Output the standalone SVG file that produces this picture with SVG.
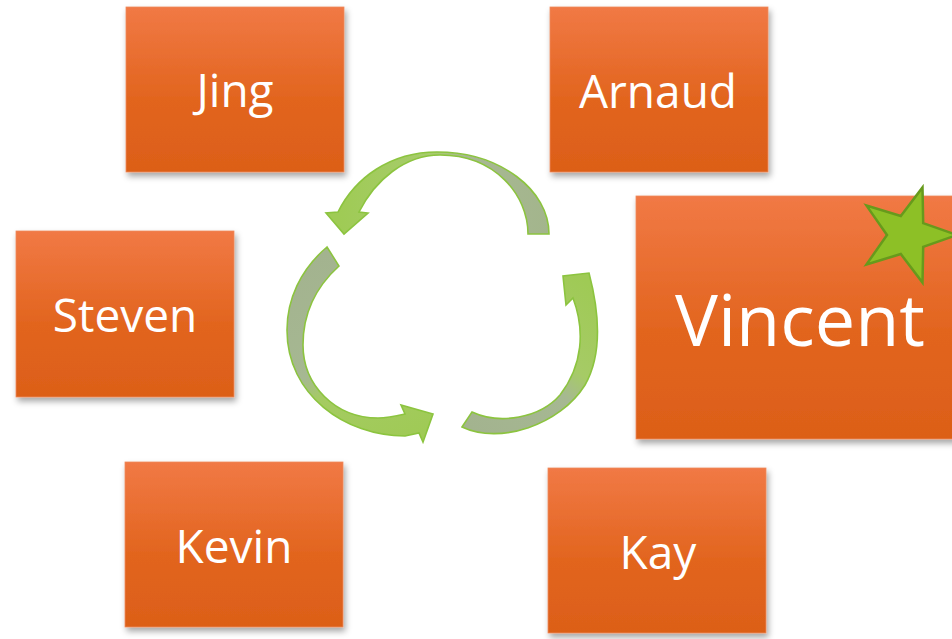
<svg xmlns="http://www.w3.org/2000/svg" width="952" height="639" viewBox="0 0 952 639">
<defs>
  <linearGradient id="box" x1="0" y1="0" x2="0" y2="1">
    <stop offset="0" stop-color="#f17945"/>
    <stop offset="0.55" stop-color="#e2651f"/>
    <stop offset="1" stop-color="#dc5f18"/>
  </linearGradient>
  <filter id="sh" x="-10%" y="-10%" width="125%" height="130%">
    <feDropShadow dx="2" dy="4" stdDeviation="3" flood-color="#000" flood-opacity="0.35"/>
  </filter>
  <linearGradient id="gTop" gradientUnits="userSpaceOnUse" x1="340" y1="200" x2="550" y2="200">
    <stop offset="0" stop-color="#9fcb55"/>
    <stop offset="0.45" stop-color="#a8cc6e"/>
    <stop offset="0.6" stop-color="#a8b894"/>
    <stop offset="1" stop-color="#a3b58c"/>
  </linearGradient>
  <linearGradient id="gLeft" gradientUnits="userSpaceOnUse" x1="330" y1="250" x2="420" y2="440">
    <stop offset="0" stop-color="#a3b38f"/>
    <stop offset="0.5" stop-color="#a6b892"/>
    <stop offset="0.62" stop-color="#a5cb62"/>
    <stop offset="1" stop-color="#9fca55"/>
  </linearGradient>
  <linearGradient id="gRight" gradientUnits="userSpaceOnUse" x1="465" y1="425" x2="585" y2="280">
    <stop offset="0" stop-color="#a3b38f"/>
    <stop offset="0.45" stop-color="#a6b892"/>
    <stop offset="0.6" stop-color="#a6cb66"/>
    <stop offset="1" stop-color="#9fca55"/>
  </linearGradient>
</defs>
<style>
  .box { fill: url(#box); stroke: #ee8a5c; stroke-width: 0.8; filter: url(#sh); }
  .lbl { fill: #ffffff; font-family: "Open Sans", "Noto Sans", "DejaVu Sans", sans-serif; font-size: 46px; text-anchor: middle; }
  .big { font-size: 72px; }
  .arrow { stroke: #8cc43f; stroke-width: 1.6; stroke-linejoin: miter; }
  .star { fill: #8dc026; stroke: #679a1c; stroke-width: 2.5; stroke-linejoin: miter; }
</style>

<g id="node-jing">
  <rect class="box" x="126" y="7" width="218" height="165"/>
  <text class="lbl" x="235" y="107">Jing</text>
</g>
<g id="node-arnaud">
  <rect class="box" x="550" y="7" width="218" height="165"/>
  <text class="lbl" x="658" y="108">Arnaud</text>
</g>
<g id="node-steven">
  <rect class="box" x="16" y="231" width="218" height="166"/>
  <text class="lbl" x="125" y="332">Steven</text>
</g>
<g id="node-vincent">
  <rect class="box" x="636" y="196" width="330" height="243"/>
  <text class="lbl big" x="800" y="346">Vincent</text>
  <polygon class="star" points="957,235 923.2,246.8 922.5,282.6 900.8,254 866.5,264.4 887,235 866.5,205.6 900.8,216 922.5,187.4 923.2,223.2"/>
</g>
<g id="node-kevin">
  <rect class="box" x="125" y="462" width="218" height="165"/>
  <text class="lbl" x="234" y="563">Kevin</text>
</g>
<g id="node-kay">
  <rect class="box" x="548" y="468" width="218" height="165"/>
  <text class="lbl" x="658" y="569">Kay</text>
</g>

<g id="connectors">
  <path class="arrow" fill="url(#gTop)" d="M549,234 C549,190 500,152 437,152 C390,152 355,178 338,212 L326,213 L344,234 L368,213 L359,212 C375,180 405,155 440,155 C495,155 528,195 528,234 Z"/>
  <path class="arrow" fill="url(#gLeft)" d="M327,247 C300,270 287,300 287,330 C287,395 345,436 405,436 L419,433 L423,442 L433,414 L401,405 L405,414 C392,417 385,418 378,418 C335,418 303,385 303,345 C303,310 318,285 339,266 Z"/>
  <path class="arrow" fill="url(#gRight)" d="M462,427 C500,445 560,425 585,385 C602,355 600,315 589,273 L563,276 L566,305 L573,298 C585,330 583,365 560,395 C540,418 500,425 472,412 Z"/>
</g>
</svg>
